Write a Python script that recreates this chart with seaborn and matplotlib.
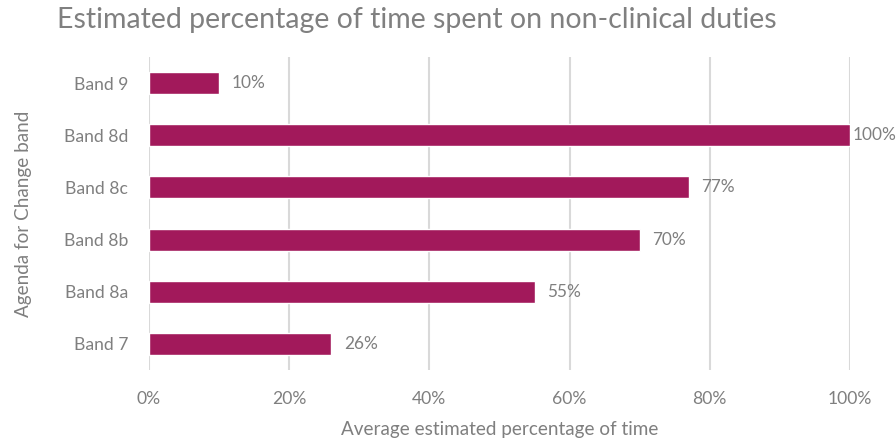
import matplotlib
matplotlib.use("Agg")
import matplotlib.pyplot as plt
import seaborn as sns
import pandas as pd
from matplotlib.ticker import PercentFormatter

bands = ["Band 9", "Band 8d", "Band 8c", "Band 8b", "Band 8a", "Band 7"]
pct_time = [10, 100, 77, 70, 55, 26]
x_ticks = [0, 20, 40, 60, 80, 100]

title = "Estimated percentage of time spent on non-clinical duties"
x_label = "Average estimated percentage of time"
y_label = "Agenda for Change band"

bar_color = "#A2195B"
text_color = "#7F7F7F"
grid_color = "#D9D9D9"

sns.set_theme(style="white")
plt.rcParams["font.family"] = ["Lato", "DejaVu Sans"]

df = pd.DataFrame({"band": bands, "pct": pct_time})

fig = plt.figure(figsize=(8.96, 4.43), dpi=100)
ax = fig.add_axes([149 / 896, 73 / 443, 701 / 896, 313 / 443])

sns.barplot(data=df, x="pct", y="band", orient="h", color=bar_color,
            width=0.42, saturation=1, ax=ax, zorder=3)

ax.set_xlim(0, 100)
ax.set_xticks(x_ticks)
ax.xaxis.set_major_formatter(PercentFormatter(decimals=0))
ax.grid(axis="x", color=grid_color, linewidth=1.5, zorder=0)
ax.grid(axis="y", visible=False)
for s in ax.spines.values():
    s.set_visible(False)

ax.tick_params(axis="x", length=0, pad=15, labelsize=12.6, labelcolor=text_color)
ax.tick_params(axis="y", length=0, pad=15, labelsize=12.6, labelcolor=text_color)

ax.set_xlabel(x_label, fontsize=13.6, color=text_color, labelpad=10)
ax.set_ylabel(y_label, fontsize=13.6, color=text_color, labelpad=23)

for i, v in enumerate(pct_time):
    off = 9 if v < 100 else 2
    ax.annotate(f"{v}%", xy=(v, i), xytext=(off, 0), textcoords="offset points",
                ha="left", va="center", fontsize=12.4, color=text_color,
                annotation_clip=False)

fig.text(417 / 896, 1 - 20 / 443, title, ha="center", va="center",
         fontsize=20.5, color="#808080")

fig.savefig("out.png", dpi=100, facecolor="white")
